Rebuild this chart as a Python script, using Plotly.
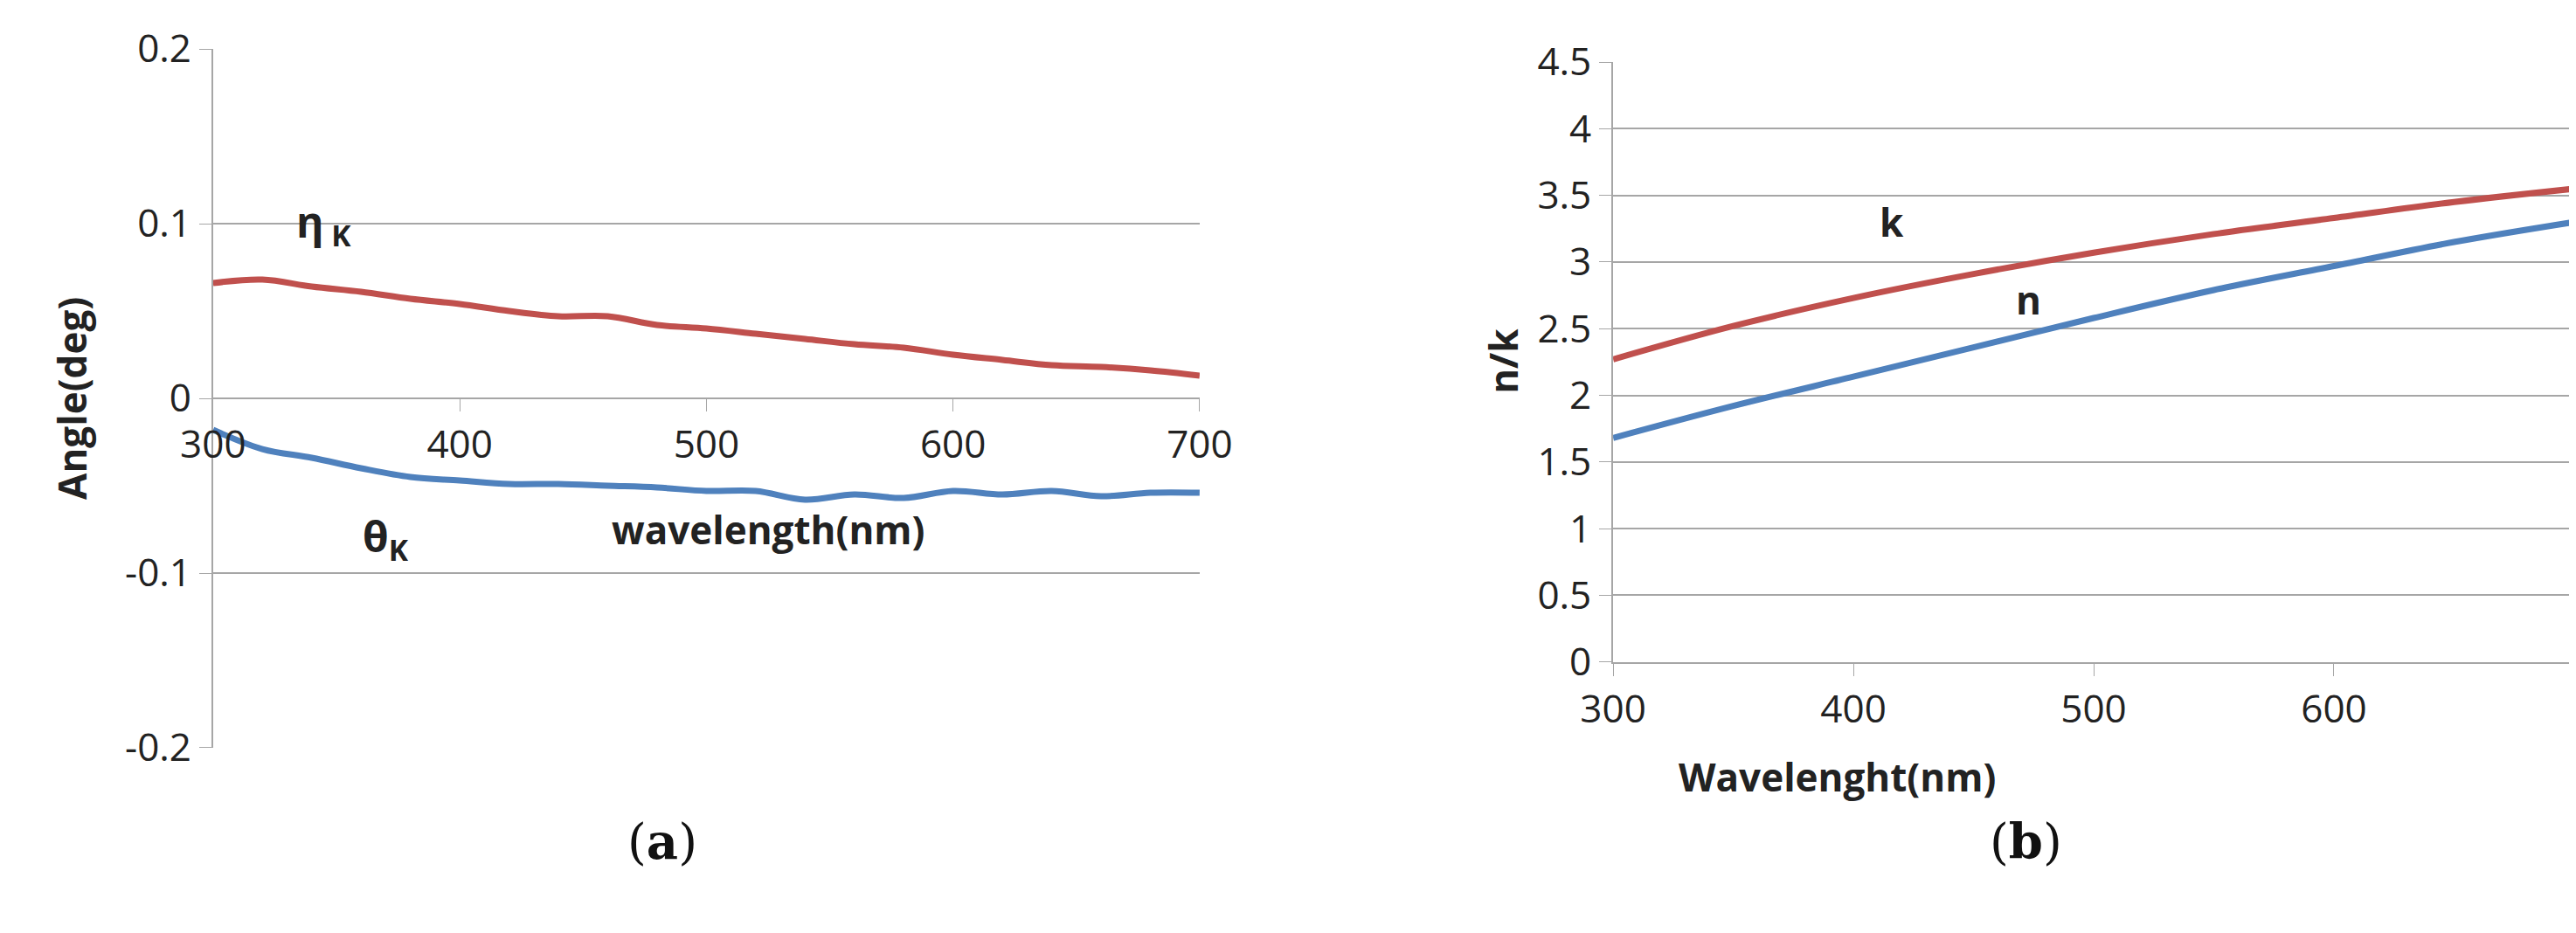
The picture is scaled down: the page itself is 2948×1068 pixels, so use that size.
import plotly.graph_objects as go

wl_a = [300,320,340,360,380,400,420,440,460,480,500,520,540,560,580,600,620,640,660,680,700]
eta_k = [0.066,0.068,0.064,0.061,0.057,0.054,0.050,0.047,0.047,0.042,0.040,0.037,0.034,0.031,0.029,0.025,0.022,0.019,0.018,0.016,0.013]
theta_k = [-0.018,-0.029,-0.034,-0.040,-0.045,-0.047,-0.049,-0.049,-0.050,-0.051,-0.053,-0.053,-0.058,-0.055,-0.057,-0.053,-0.055,-0.053,-0.056,-0.054,-0.054]
wl_b = [300,350,400,450,500,550,600,650,700]
k_vals = [2.27,2.52,2.73,2.91,3.07,3.21,3.33,3.45,3.55]
n_vals = [1.68,1.92,2.14,2.36,2.58,2.79,2.97,3.15,3.30]

RED = "#C0504D"; BLUE = "#4F81BD"; GRID = "#A6A6A6"
TF = dict(family="Open Sans, Liberation Sans, sans-serif", size=44, color="#222")

fig = go.Figure()
fig.add_trace(go.Scatter(x=wl_a, y=eta_k, mode="lines", line=dict(color=RED, width=7, shape="spline"), xaxis="x", yaxis="y"))
fig.add_trace(go.Scatter(x=wl_a, y=theta_k, mode="lines", line=dict(color=BLUE, width=7, shape="spline"), xaxis="x", yaxis="y"))
fig.add_trace(go.Scatter(x=wl_b, y=k_vals, mode="lines", line=dict(color=RED, width=7, shape="spline"), xaxis="x2", yaxis="y2"))
fig.add_trace(go.Scatter(x=wl_b, y=n_vals, mode="lines", line=dict(color=BLUE, width=7, shape="spline"), xaxis="x2", yaxis="y2"))

ax_common = dict(showgrid=False, showline=True, linecolor=GRID, linewidth=2, ticks="outside", ticklen=14, tickcolor=GRID,
                 tickfont=TF, zeroline=False, automargin=False)
yax_common = dict(showgrid=True, gridcolor=GRID, gridwidth=2, showline=True, linecolor=GRID, linewidth=2, ticks="outside",
                  ticklen=14, tickcolor=GRID, tickfont=TF, zeroline=False, automargin=False)
fig.update_layout(
    width=2948, height=1068, margin=dict(l=0, r=0, t=0, b=0),
    paper_bgcolor="white", plot_bgcolor="white", showlegend=False,
    xaxis=dict(domain=[0.080, 0.463], range=[300, 700], tickvals=[300,400,500,600,700], anchor="free", position=0.5806, **ax_common),
    yaxis=dict(domain=[0.206, 0.955], range=[-0.2, 0.2], tickvals=[-0.2,-0.1,0,0.1,0.2], ticktext=["-0.2","-0.1","0","0.1","0.2"],
               anchor="x", **yax_common),
    xaxis2=dict(domain=[0.6235, 0.9966], range=[300, 700], tickvals=[300,400,500,600,700], anchor="y2", **ax_common),
    yaxis2=dict(domain=[0.298, 0.941], range=[0, 4.5], tickvals=[0,0.5,1,1.5,2,2.5,3,3.5,4,4.5],
                ticktext=["0","0.5","1","1.5","2","2.5","3","3.5","4","4.5"], anchor="x2", **yax_common),
)

BF = dict(family="Open Sans, Liberation Sans, sans-serif", size=44, color="#222")
SF = dict(family="DejaVu Serif, Liberation Serif, serif", size=56, color="#111")
ann = [
    dict(x=345, y=0.1, xref="x", yref="y", text="<b>η</b><sub><b> K</b></sub>", showarrow=False, font=dict(BF, size=48)),
    dict(x=370, y=-0.08, xref="x", yref="y", text="<b>θ</b><sub><b>K</b></sub>", showarrow=False, font=dict(BF, size=48)),
    dict(x=525, y=-0.075, xref="x", yref="y", text="<b>wavelength(nm)</b>", showarrow=False, font=BF),
    dict(x=416, y=3.3, xref="x2", yref="y2", text="<b>k</b>", showarrow=False, font=BF),
    dict(x=473, y=2.72, xref="x2", yref="y2", text="<b>n</b>", showarrow=False, font=BF),
    dict(x=42/2948, y=0.5806, xref="paper", yref="paper", text="<b>Angle(deg)</b>", textangle=-90, showarrow=False, font=BF),
    dict(x=1712/2948, y=0.62, xref="paper", yref="paper", text="<b>n/k</b>", textangle=-90, showarrow=False, font=BF),
    dict(x=2278/2948, y=1-913/1068, xref="paper", yref="paper", text="<b>Wavelenght(nm)</b>", showarrow=False, font=BF),
    dict(x=708/2948, y=1-990/1068, xref="paper", yref="paper", text="(<b>a</b>)", showarrow=False, font=SF),
    dict(x=2354/2948, y=1-990/1068, xref="paper", yref="paper", text="(<b>b</b>)", showarrow=False, font=SF),
]
fig.update_layout(annotations=ann)
fig.write_html("out.html")
